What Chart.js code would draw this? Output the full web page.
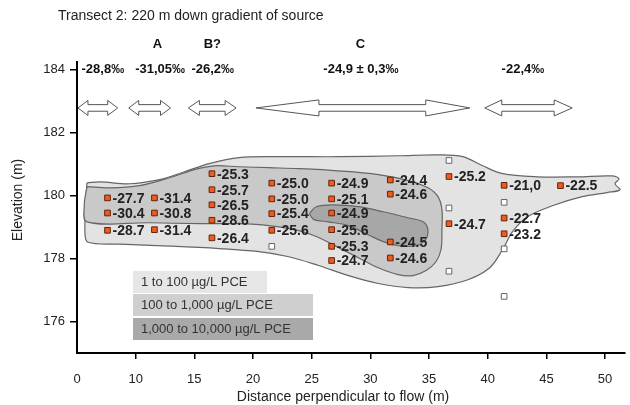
<!DOCTYPE html>
<html><head><meta charset="utf-8">
<script src="https://cdn.jsdelivr.net/npm/chart.js@4"></script>
<style>html,body{margin:0;padding:0;background:#fff}canvas{display:block}</style>
</head><body>
<canvas id="c" width="630" height="405"></canvas>
<script>
// ---------- data ----------
const xTicks = [5, 10, 15, 20, 25, 30, 35, 40, 45, 50];
const xTickLabels = ['0', '10', '15', '20', '25', '30', '35', '40', '45', '50'];
const yTicks = [176, 178, 180, 182, 184];

// sampled points with δ13C value
const measuredX = [7.6,7.6,7.6, 11.6,11.6,11.6, 16.5,16.5,16.5,16.5,16.5, 21.6,21.6,21.6,21.6,
  26.7,26.7,26.7,26.7,26.7,26.7, 31.7,31.7,31.7,31.7, 36.7,36.7, 41.4,41.4,41.4, 46.2];
const measuredElev = [179.93,179.45,178.90, 179.93,179.45,178.92, 180.70,180.19,179.71,179.22,178.66,
  180.40,179.90,179.43,178.90, 180.40,179.90,179.45,178.92,178.39,177.94,
  180.50,180.05,178.53,178.02, 180.61,179.11, 180.33,179.29,178.79, 180.32];
const d13CLabels = ['-27.7','-30.4','-28.7', '-31.4','-30.8','-31.4', '-25.3','-25.7','-26.5','-28.6','-26.4',
  '-25.0','-25.0','-25.4','-25.6', '-24.9','-25.1','-24.9','-25.6','-25.3','-24.7',
  '-24.4','-24.6','-24.5','-24.6', '-25.2','-24.7', '-21,0','-22.7','-23.2', '-22.5'];

// sampled points without value
const emptyX = [21.6, 36.7, 36.7, 36.7, 41.4, 41.4, 41.4];
const emptyElev = [178.39, 181.12, 179.61, 177.60, 179.79, 178.31, 176.80];

// concentration contours
const lightX = [5.85,6.95,9.49,12.03,14.15,16.27,18.81,22.2,27.29,32.37,35.76,37.88,39.58,41.27,44.24,47.63,50.59,51.19,50.85,51.27,50.17,48.05,45.51,43.39,42.12,41.27,40.17,38.31,35.76,33.22,30.68,28.14,25.59,23.05,20.51,17.12,12.88,8.64,5.93,5.68,5.76,5.85];
const lightY = [180.41,180.44,180.38,180.51,180.76,181.02,181.21,181.24,181.24,181.27,181.30,181.24,180.95,180.70,180.60,180.60,180.63,180.54,180.38,180.19,180.10,179.97,179.68,179.33,178.86,178.29,177.71,177.33,177.11,177.08,177.21,177.46,177.78,178.06,178.22,178.32,178.40,178.46,178.52,178.80,179.87,180.41];
const midX = [5.85,7.80,10.34,12.88,15.0,16.69,18.81,21.36,23.90,27.29,30.68,33.22,34.92,35.76,36.10,36.10,36.02,35.59,34.75,33.64,32.37,30.68,28.98,27.29,25.59,23.90,21.36,18.81,15.42,11.19,5.85,5.62,5.85];
const midY = [180.29,180.25,180.32,180.57,180.83,180.95,180.92,180.89,180.86,180.79,180.67,180.48,180.25,179.97,179.56,178.92,178.29,177.90,177.62,177.46,177.49,177.71,178.03,178.35,178.67,178.89,179.05,179.11,179.11,179.14,179.17,179.71,180.29];
const darkX = [24.8,25.4,26.9,29.0,31.1,33.2,34.5,34.9,34.7,33.9,32.4,31.1,29.8,28.1,26.4,25.2,24.8];
const darkY = [179.43,179.65,179.71,179.65,179.49,179.30,179.17,178.92,178.60,178.41,178.41,178.54,178.76,179.05,179.17,179.24,179.43];

// annotations
const arrowSpans = [[5.08, 8.47], [9.41, 12.97], [14.49, 18.56], [20.25, 38.47], [39.75, 47.2]];
const arrowElev = 182.79;
const sourceLetters = ['A', 'B?', 'C'];
const sourceLetterX = [11.86, 16.53, 29.15];
const isoLabels = ['-28,8‰', '-31,05‰', '-26,2‰', '-24,9 ± 0,3‰', '-22,4‰'];
const isoLabelX = [7.2, 12.08, 16.57, 29.19, 43.0];
const legendLabels = ['1 to 100 µg/L PCE', '100 to 1,000 µg/L PCE', '1,000 to 10,000 µg/L PCE'];

// ---------- helpers ----------
const zip = (xs, ys) => xs.map((x, i) => ({x: x, y: ys[i]}));
const FONT = '"Liberation Sans", Arial, Helvetica, sans-serif';
const COLORS = {light: '#e3e3e4', mid: '#c9c9ca', dark: '#a7a7a8'};
const LEGEND_FILL = ['#e6e6e7', '#cfcfd0', '#a9a9aa'];

function shapeDataset(xs, ys, color, order) {
  return {
    type: 'scatter', data: zip(xs, ys), showLine: true, fill: 'shape',
    backgroundColor: color, borderColor: '#666', borderWidth: 1.2,
    tension: 0.35, pointRadius: 0, order: order
  };
}

const overlay = {
  id: 'overlay',
  afterDatasetsDraw(chart) {
    const ctx = chart.ctx, xs = chart.scales.x, ys = chart.scales.y;
    ctx.save();
    // point labels
    const meta = chart.getDatasetMeta(0);
    ctx.font = 'bold 14px ' + FONT;
    ctx.fillStyle = '#222';
    ctx.textAlign = 'left';
    ctx.textBaseline = 'middle';
    meta.data.forEach((el, i) => {
      ctx.fillText(d13CLabels[i], el.x + 5, el.y + 1);
    });

    // arrows
    const heads = [[10, 10], [10, 10], [11, 11], [63, 44], [17, 18]];
    const hh = [7.5, 7.5, 7.5, 8, 8];
    const sh = 3.3;
    const cy = ys.getPixelForValue(arrowElev);
    arrowSpans.forEach((s, i) => {
      const x0 = xs.getPixelForValue(s[0]), x1 = xs.getPixelForValue(s[1]);
      const a = heads[i][0], b = heads[i][1], h = hh[i];
      ctx.beginPath();
      ctx.moveTo(x0, cy);
      ctx.lineTo(x0 + a, cy - h); ctx.lineTo(x0 + a, cy - sh);
      ctx.lineTo(x1 - b, cy - sh); ctx.lineTo(x1 - b, cy - h);
      ctx.lineTo(x1, cy);
      ctx.lineTo(x1 - b, cy + h); ctx.lineTo(x1 - b, cy + sh);
      ctx.lineTo(x0 + a, cy + sh); ctx.lineTo(x0 + a, cy + h);
      ctx.closePath();
      ctx.fillStyle = '#fff'; ctx.fill();
      ctx.strokeStyle = '#555'; ctx.lineWidth = 1; ctx.stroke();
    });

    // header labels
    ctx.fillStyle = '#111';
    ctx.textAlign = 'center';
    ctx.font = 'bold 13px ' + FONT;
    const yLetters = ys.getPixelForValue(184.8);
    sourceLetters.forEach((t, i) => ctx.fillText(t, xs.getPixelForValue(sourceLetterX[i]), yLetters));
    const yIso = ys.getPixelForValue(184.0);
    isoLabels.forEach((t, i) => ctx.fillText(t, xs.getPixelForValue(isoLabelX[i]), yIso));

    // legend boxes
    const lx = 133;
    const boxes = [[271, 134], [294, 180], [318, 180]];
    ctx.font = '13px ' + FONT;
    ctx.textAlign = 'left';
    legendLabels.forEach((t, i) => {
      ctx.fillStyle = LEGEND_FILL[i];
      ctx.fillRect(lx, boxes[i][0], boxes[i][1], 22);
      ctx.fillStyle = '#333';
      ctx.fillText(t, lx + 8, boxes[i][0] + 11.5);
    });
    ctx.restore();
  },
  afterDraw(chart) {
    const ctx = chart.ctx;
    ctx.save();
    ctx.fillStyle = '#222';
    ctx.font = '14px ' + FONT;
    ctx.textBaseline = 'middle';
    ctx.textAlign = 'left';
    ctx.fillText('Transect 2: 220 m down gradient of source', 58, 16);
    ctx.textAlign = 'center';
    ctx.fillText('Distance perpendicular to flow (m)', 343, 397);
    ctx.translate(18, 200);
    ctx.rotate(-Math.PI / 2);
    ctx.fillText('Elevation (m)', 0, 0);
    ctx.restore();
  }
};

new Chart(document.getElementById('c'), {
  type: 'scatter',
  data: {
    datasets: [
      {
        data: zip(measuredX, measuredElev), pointStyle: 'rect', pointRadius: 4,
        backgroundColor: '#f05a1c', borderColor: '#5e2510', borderWidth: 1, order: 0
      },
      {
        data: zip(emptyX, emptyElev), pointStyle: 'rect', pointRadius: 4,
        backgroundColor: '#ffffff', borderColor: '#666', borderWidth: 1, order: 0
      },
      shapeDataset(darkX, darkY, COLORS.dark, 1),
      shapeDataset(midX, midY, COLORS.mid, 2),
      shapeDataset(lightX, lightY, COLORS.light, 3)
    ]
  },
  options: {
    responsive: false, animation: false, devicePixelRatio: 1,
    layout: {padding: {left: 0, right: 1, top: 62, bottom: 0}},
    plugins: {legend: {display: false}, tooltip: {enabled: false}, title: {display: false}},
    scales: {
      x: {
        type: 'linear', min: 5, max: 51.7,
        afterFit(s) { s.height = 52; },
        afterBuildTicks(s) { s.ticks = xTicks.map(v => ({value: v})); },
        ticks: {
          callback: (v) => xTickLabels[xTicks.indexOf(v)],
          font: {family: FONT, size: 13}, color: '#222', padding: 13,
          maxRotation: 0, autoSkip: false
        },
        grid: {
          drawOnChartArea: false, tickLength: 6, lineWidth: 1.5,
          color: (c) => (c.tick && c.tick.value === 5) ? 'rgba(0,0,0,0)' : '#000'
        },
        border: {color: '#000', width: 2}
      },
      y: {
        type: 'linear', min: 175, max: 184.25,
        afterFit(s) { s.width = 77; },
        afterBuildTicks(s) { s.ticks = yTicks.map(v => ({value: v})); },
        ticks: {font: {family: FONT, size: 13}, color: '#222', padding: 5},
        grid: {drawOnChartArea: false, tickLength: 7, lineWidth: 1.5, color: '#000'},
        border: {color: '#000', width: 2}
      }
    }
  },
  plugins: [overlay]
});
</script>
</body></html>
